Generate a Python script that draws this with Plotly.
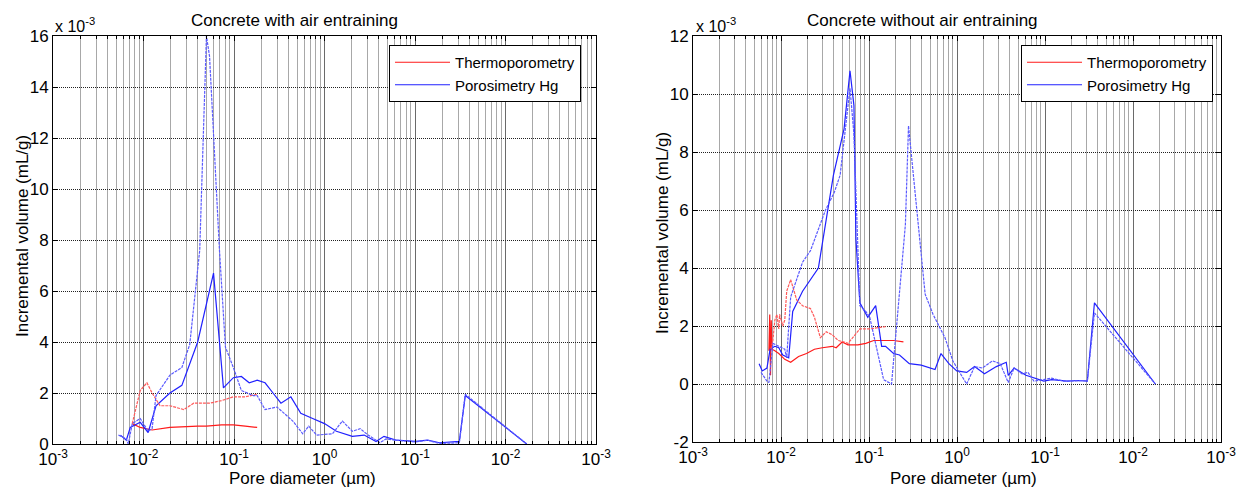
import plotly.graph_objects as go

# ---------------- data (y in units of 1e-3 mL/g, x in µm) ----------------
# Left: Concrete with air entraining
L_thermo_x = [0.00751, 0.00920, 0.01244, 0.01959, 0.03970, 0.04955, 0.07278, 0.09837, 0.1331, 0.1802]
L_thermo_y = [0.8, 0.65, 0.55, 0.65, 0.7, 0.7, 0.75, 0.75, 0.7, 0.65]
L_thermo2_x = [0.00751, 0.00920, 0.01092, 0.01244, 0.01523, 0.01959, 0.02787, 0.03588, 0.05370, 0.07278, 0.09837, 0.1331, 0.1802]
L_thermo2_y = [0.8, 2.1, 2.4, 2.0, 1.5, 1.5, 1.35, 1.6, 1.6, 1.7, 1.85, 1.85, 1.95]
L_hg_x = [0.00556, 0.00646, 0.00714, 0.00920, 0.01125, 0.01376, 0.01959, 0.02653, 0.03970, 0.05940, 0.07644,
          0.09837, 0.1205, 0.1472, 0.1802, 0.2204, 0.2698, 0.3302, 0.4249, 0.5467, 0.7399, 1.0, 1.354,
          2.029, 2.744, 3.713, 4.543, 6.150, 10.18, 13.77, 18.65, 29.38, 30.90, 35.93, 171.4]
L_hg_y = [0.35, 0.15, 0.65, 0.85, 0.45, 1.5, 2.0, 2.3, 4.0, 6.7, 2.2,
          2.6, 2.65, 2.4, 2.5, 2.4, 2.0, 1.6, 1.85, 1.2, 1.0, 0.8, 0.5,
          0.3, 0.35, 0.1, 0.3, 0.15, 0.1, 0.15, 0.05, 0.1, 0.1, 1.9, 0.0]
L_hg2_x = [0.00528, 0.00646, 0.00679, 0.00751, 0.00920, 0.01125, 0.01244, 0.01376, 0.01959, 0.02653, 0.03243,
           0.0418, 0.0496, 0.0537, 0.0691, 0.0804, 0.09837, 0.1205, 0.1629, 0.1802, 0.2204, 0.2985, 0.4467,
           0.5748, 0.6689, 0.8185, 1.224, 1.577, 2.029, 2.481, 3.035, 4.107, 4.777, 6.150, 10.18, 13.77,
           18.65, 29.38, 30.90, 35.93, 171.4]
L_hg2_y = [0.35, 0.2, 0.0, 0.8, 1.0, 0.5, 0.6, 1.9, 2.7, 3.0, 3.9,
           7.6, 16.0, 15.2, 7.6, 3.8, 3.0, 2.1, 1.9, 1.9, 1.35, 1.45, 0.9,
           0.4, 0.7, 0.35, 0.4, 0.9, 0.5, 0.6, 0.35, 0.05, 0.2, 0.15, 0.08, 0.15,
           0.02, 0.05, 0.05, 1.95, 0.0]

# Right: Concrete without air entraining
R_thermo_x = [0.00729, 0.00745, 0.00760, 0.00775, 0.00790, 0.00851, 0.00944, 0.01103, 0.01288, 0.01585,
              0.01950, 0.02398, 0.02948, 0.03823, 0.04236, 0.04946, 0.05776, 0.07479, 0.09198, 0.1131,
              0.1392, 0.1900, 0.2462]
R_thermo_y = [1.15, 2.4, 0.3, 2.2, 1.2, 1.15, 1.05, 0.85, 0.75, 0.95,
              1.05, 1.2, 1.25, 1.3, 1.25, 1.45, 1.35, 1.35, 1.4, 1.5,
              1.5, 1.5, 1.45]
R_thermo2_x = [0.00768, 0.00809, 0.00851, 0.00897, 0.00944, 0.00964, 0.01047, 0.01103, 0.01161, 0.01288,
               0.01507, 0.01758, 0.02163, 0.02398, 0.02799, 0.03270, 0.03823, 0.04461, 0.05208, 0.05776,
               0.06745, 0.07876, 0.1020, 0.1254, 0.1544]
R_thermo2_y = [1.2, 1.5, 2.2, 2.4, 1.9, 2.4, 2.0, 2.2, 3.2, 3.6,
               2.9, 2.7, 2.6, 2.3, 1.6, 1.8, 1.7, 1.5, 1.45, 1.4,
               1.65, 1.9, 1.9, 1.95, 1.98]
R_hg_x = [0.00564, 0.00612, 0.00692, 0.00752, 0.00851, 0.00944, 0.01047, 0.01224, 0.01358, 0.01758,
          0.02659, 0.03942, 0.05208, 0.06082, 0.06745, 0.07103, 0.07876, 0.09685, 0.1191, 0.1392,
          0.1544, 0.1900, 0.2221, 0.2871, 0.3918, 0.5628, 0.6578, 0.8088, 0.9944, 1.288, 1.584,
          2.052, 2.799, 3.629, 3.821, 4.458, 6.080, 7.880, 9.693, 11.92, 18.02, 23.37, 30.29, 36.48, 179.5]
R_hg_y = [0.7, 0.45, 0.55, 1.2, 1.3, 1.25, 1.0, 0.9, 2.5, 3.2,
          4.0, 7.2, 8.8, 10.8, 9.6, 5.0, 2.8, 2.3, 2.7, 1.3,
          1.3, 1.05, 1.0, 0.7, 0.65, 0.5, 1.05, 0.7, 0.45, 0.4, 0.6,
          0.35, 0.6, 0.75, 0.3, 0.55, 0.3, 0.2, 0.1, 0.15, 0.1, 0.12, 0.1, 2.8, 0.0]
R_hg2_x = [0.00593, 0.00692, 0.00729, 0.00809, 0.00944, 0.01103, 0.01161, 0.01288, 0.01758, 0.02163,
           0.03205, 0.04023, 0.04697, 0.06082, 0.06745, 0.07876, 0.09198, 0.1020, 0.1466, 0.1804,
           0.2592, 0.2812, 0.4345, 0.5345, 0.7294, 0.8968, 1.047, 1.288, 1.584, 1.949, 2.524,
           3.104, 3.821, 4.458, 5.483, 6.404, 7.482, 10.21, 11.92, 16.25, 23.37, 30.29, 36.48, 179.5]
R_hg2_y = [0.4, 0.1, 0.05, 1.4, 1.3, 1.2, 0.9, 3.0, 4.2, 4.6,
           6.0, 6.6, 7.2, 10.2, 8.6, 2.7, 2.5, 2.3, 0.15, 0.0,
           5.5, 8.9, 3.1, 2.4, 1.6, 0.8, 0.45, 0.0, 0.6, 0.55, 0.8,
           0.7, 0.05, 0.55, 0.35, 0.4, 0.1, 0.15, 0.2, 0.1, 0.1, 0.12, 2.45, 0.0]

x_tickvals = [1e-3, 1e-2, 1e-1, 1e0, 1e1, 1e2, 1e3]
x_ticktext = ["10<sup>-3</sup>", "10<sup>-2</sup>", "10<sup>-1</sup>", "10<sup>0</sup>",
              "10<sup>-1</sup>", "10<sup>-2</sup>", "10<sup>-3</sup>"]
L_yticks = [0, 2, 4, 6, 8, 10, 12, 14, 16]
R_yticks = [-2, 0, 2, 4, 6, 8, 10, 12]

# ---------------- styling ----------------
W, H = 1237, 488
FONT = "Arial, Liberation Sans, sans-serif"
RED, RED2 = "#ff1a1a", "#ff5a5a"
BLUE, BLUE2 = "#2020ff", "#5a5aff"

def px(x):
    return x / W

def py(y):
    return 1 - y / H

minor_vals = [m * 10.0 ** e for e in range(-3, 3) for m in range(2, 10)]

fig = go.Figure()

def add(xs, ys, color, dash, name, show, xa, ya, leg):
    fig.add_trace(go.Scatter(x=xs, y=ys, mode="lines", name=name, showlegend=show,
                             line=dict(color=color, width=1.2, dash=dash),
                             xaxis=xa, yaxis=ya, legend=leg, hoverinfo="skip"))

add(L_thermo_x, L_thermo_y, RED, "solid", "Thermoporometry", True, "x", "y", "legend")
add(L_hg_x, L_hg_y, BLUE, "solid", "Porosimetry Hg", True, "x", "y", "legend")
add(L_thermo2_x, L_thermo2_y, RED2, "3px,1px", "Thermoporometry", False, "x", "y", "legend")
add(L_hg2_x, L_hg2_y, BLUE2, "3px,1px", "Porosimetry Hg", False, "x", "y", "legend")

add(R_thermo_x, R_thermo_y, RED, "solid", "Thermoporometry", True, "x2", "y2", "legend2")
add(R_hg_x, R_hg_y, BLUE, "solid", "Porosimetry Hg", True, "x2", "y2", "legend2")
add(R_thermo2_x, R_thermo2_y, RED2, "3px,1px", "Thermoporometry", False, "x2", "y2", "legend2")
add(R_hg2_x, R_hg2_y, BLUE2, "3px,1px", "Porosimetry Hg", False, "x2", "y2", "legend2")

def xaxis(domain, anchor):
    return dict(type="log", range=[-3, 3], domain=domain, anchor=anchor, automargin=False,
                tickmode="array", tickvals=x_tickvals, ticktext=x_ticktext,
                ticks="inside", ticklen=5, tickcolor="black", mirror="allticks",
                showline=True, linecolor="black", linewidth=1,
                showgrid=True, gridcolor="#6a6a6a", gridwidth=1,
                tickfont=dict(family=FONT, size=17, color="black"),
                minor=dict(tickmode="array", tickvals=minor_vals, ticks="inside", ticklen=3,
                           tickcolor="black", showgrid=True, gridcolor="#a8a8a8", gridwidth=1),
                zeroline=False, fixedrange=True)

def yaxis(domain, anchor, rng, ticks):
    return dict(range=rng, domain=domain, anchor=anchor, automargin=False,
                tickmode="array", tickvals=ticks, ticktext=[str(t) for t in ticks],
                ticks="inside", ticklen=5, tickcolor="black", mirror="allticks",
                showline=True, linecolor="black", linewidth=1,
                showgrid=True, gridcolor="#222222", griddash="1px,1px", gridwidth=1,
                tickfont=dict(family=FONT, size=17, color="black"),
                zeroline=False, fixedrange=True)

legend_common = dict(xanchor="left", yanchor="top", bgcolor="white", bordercolor="black",
                     borderwidth=1, font=dict(family=FONT, size=15, color="black"),
                     tracegroupgap=0, itemwidth=55)

fig.update_layout(
    width=W, height=H, margin=dict(l=0, r=0, t=0, b=0, pad=0, autoexpand=False),
    paper_bgcolor="white", plot_bgcolor="white",
    font=dict(family=FONT, color="black"),
    xaxis=xaxis([px(53), px(596)], "y"),
    yaxis=yaxis([py(444), py(36)], "x", [0, 16], L_yticks),
    xaxis2=xaxis([px(693), px(1221)], "y2"),
    yaxis2=yaxis([py(442), py(36)], "x2", [-2, 12], R_yticks),
    legend=dict(x=px(389), y=py(45), **legend_common),
    legend2=dict(x=px(1021), y=py(45), **legend_common),
)

ann = []
def text(x, y, t, size=17, angle=0, xanchor="center"):
    ann.append(dict(x=px(x), y=py(y), xref="paper", yref="paper", text=t, showarrow=False,
                    xanchor=xanchor, yanchor="middle", textangle=angle,
                    font=dict(family=FONT, size=size, color="black")))

text(294, 20, "Concrete with air entraining", 17)
text(922, 20, "Concrete without air entraining", 17)
text(53, 25, "x 10<sup>-3</sup>", 16, xanchor="left")
text(694, 25, "x 10<sup>-3</sup>", 16, xanchor="left")
text(302, 478, "Pore diameter (µm)", 17)
text(963, 478, "Pore diameter (µm)", 17)
text(22, 236, "Incremental volume (mL/g)", 17, angle=-90)
text(662, 233, "Incremental volume (mL/g)", 17, angle=-90)
fig.update_layout(annotations=ann)

fig.write_html("out.html", config={"displayModeBar": False},
               post_script="document.body.style.margin='0';document.body.style.overflow='hidden';")
